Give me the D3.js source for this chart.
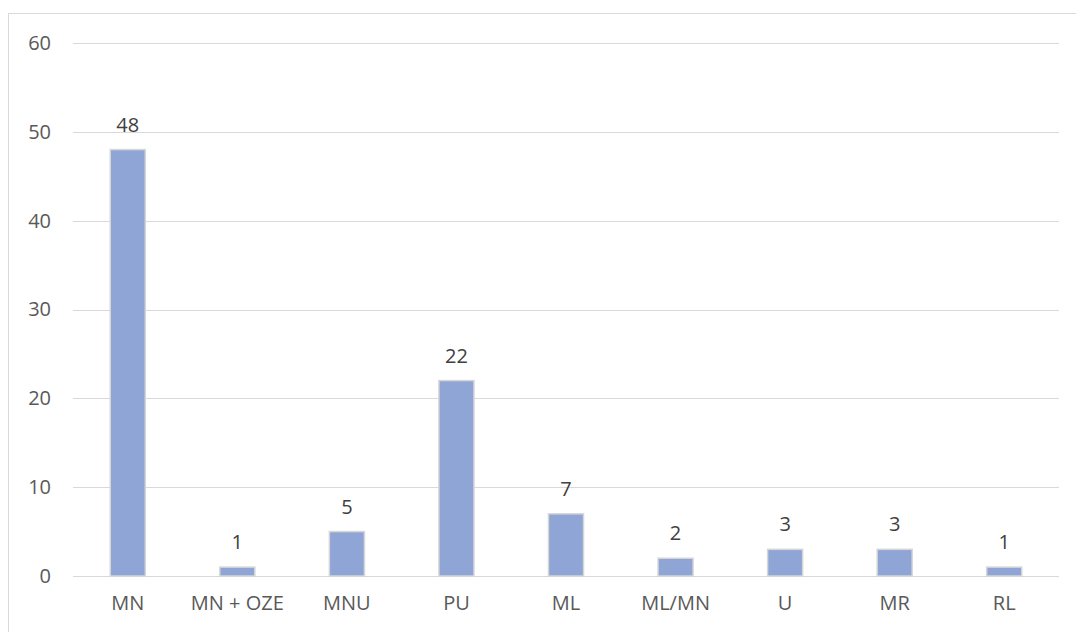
<!DOCTYPE html>
<html>
<head>
<meta charset="utf-8">
<title></title>
<style>
  body { margin: 0; background: #fff; }
  text { font-family: "Open Sans", "Liberation Sans", sans-serif; }
</style>
</head>
<body>
<svg id="chart" width="1076" height="632"></svg>
<script src="https://d3js.org/d3.v7.min.js"></script>
<script>
// kategorie i wartości
var categories = ["MN", "MN + OZE", "MNU", "PU", "ML", "ML/MN", "U", "MR", "RL"];
var values = [48, 1, 5, 22, 7, 2, 3, 3, 1];
var yTicks = [0, 10, 20, 30, 40, 50, 60];

var svg = d3.select("#chart");

// ramka wykresu
svg.append("rect")
    .attr("x", 8.5).attr("y", 13.5)
    .attr("width", 1080).attr("height", 640)
    .attr("fill", "none").attr("stroke", "#d9d9d9");

var plotLeft = 73, plotRight = 1059, plotTop = 43, plotBottom = 576;

var x = d3.scaleBand().domain(categories).range([plotLeft, plotRight]).paddingInner(0.68).paddingOuter(0.34);
var y = d3.scaleLinear().domain([0, 60]).range([plotBottom, plotTop]);

// linie siatki
svg.append("g").selectAll("line")
    .data(yTicks)
    .enter().append("line")
    .attr("x1", plotLeft).attr("x2", plotRight)
    .attr("y1", function(d) { return Math.round(y(d)) + 0.5; })
    .attr("y2", function(d) { return Math.round(y(d)) + 0.5; })
    .attr("stroke", "#d9d9d9").attr("stroke-width", 1);

// oś Y
var yAxis = svg.append("g")
    .attr("transform", "translate(" + (plotLeft - 22) + ",0)")
    .call(d3.axisLeft(y).tickValues(yTicks).tickSize(0).tickPadding(0));
yAxis.select(".domain").remove();
yAxis.selectAll("text")
    .attr("fill", "#595959").style("font-size", "20px");

// słupki
svg.append("g").selectAll("rect")
    .data(values)
    .enter().append("rect")
    .attr("x", function(d, i) { return x(categories[i]); })
    .attr("y", function(d) { return y(d); })
    .attr("width", x.bandwidth())
    .attr("height", function(d) { return y(0) - y(d); })
    .attr("fill", "#8fa5d6")
    .attr("stroke", "#d6d6d6").attr("stroke-width", 1.5);

// etykiety danych
svg.append("g").selectAll("text")
    .data(values)
    .enter().append("text")
    .attr("x", function(d, i) { return x(categories[i]) + x.bandwidth() / 2; })
    .attr("y", function(d) { return y(d) - 18; })
    .attr("text-anchor", "middle")
    .attr("fill", "#404040").style("font-size", "20px")
    .text(function(d) { return d; });

// oś X
var xAxis = svg.append("g")
    .attr("transform", "translate(0," + plotBottom + ")")
    .call(d3.axisBottom(x).tickSize(0).tickPadding(20));
xAxis.select(".domain").remove();
xAxis.selectAll("text")
    .attr("fill", "#595959").style("font-size", "20px");
</script>
</body>
</html>
